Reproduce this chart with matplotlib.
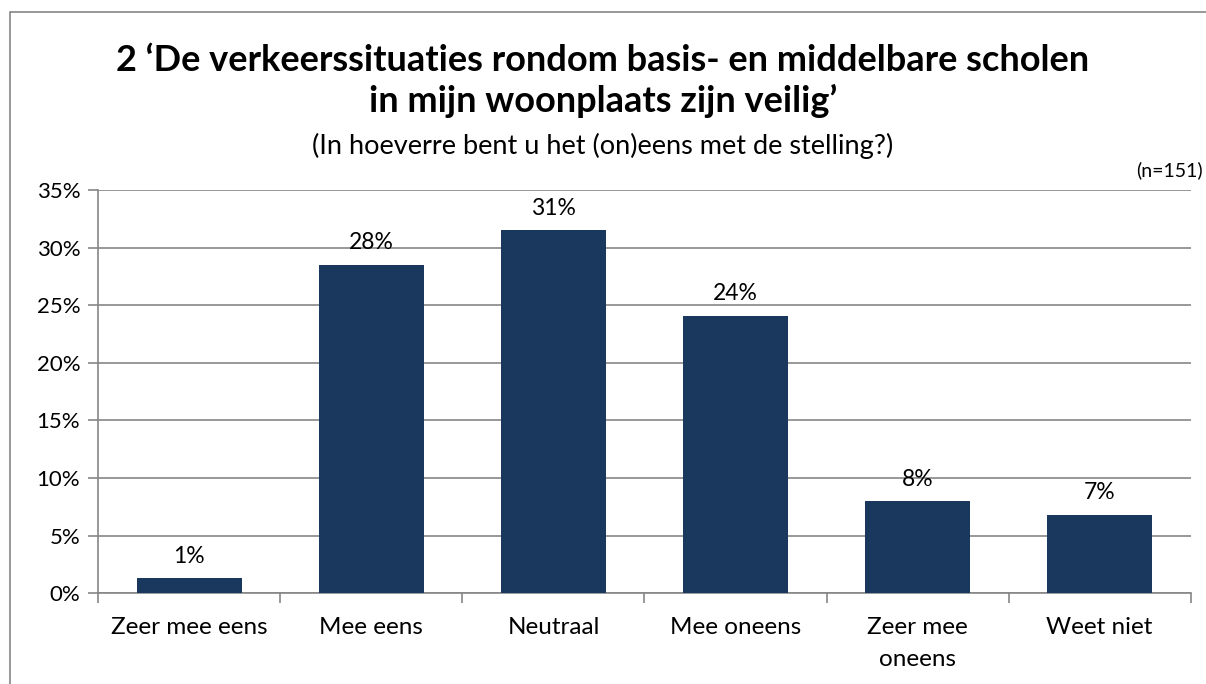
import matplotlib
matplotlib.use('Agg')
import matplotlib.pyplot as plt
from matplotlib.patches import Rectangle
from matplotlib.ticker import FixedLocator, PercentFormatter

categorieen = ['Zeer mee eens', 'Mee eens', 'Neutraal', 'Mee oneens', 'Zeer mee\noneens', 'Weet niet']
percentages = [1.3, 28.5, 31.5, 24.1, 8.0, 6.8]
labels = ['1%', '28%', '31%', '24%', '8%', '7%']

plt.rcParams['font.family'] = ['Lato', 'DejaVu Sans']

fig = plt.figure(figsize=(12.06, 6.84), dpi=100)
ax = fig.add_axes([0.0815, 0.1326, 0.9058, 0.5896])

# rand om de grafiek
fig.patches.append(Rectangle((10 / 1206, -0.1), 1.2, 1 - 12 / 684 + 0.1, transform=fig.transFigure,
                             fill=False, edgecolor='#868686', linewidth=1.2))

x = range(len(categorieen))
ax.bar(x, percentages, width=0.58, color='#1A375E', zorder=3)
for xi, p, l in zip(x, percentages, labels):
    ax.text(xi, p + 1.0, l, ha='center', va='bottom', fontsize=16.5)

ax.set_xlim(-0.5, len(categorieen) - 0.5)
ax.set_ylim(0, 35)
ax.set_yticks(range(0, 36, 5))
ax.yaxis.set_major_formatter(PercentFormatter(decimals=0))
ax.grid(axis='y', color='#868686', linewidth=1.2, zorder=0)

ax.set_xticks(list(x))
ax.set_xticklabels(categorieen, fontsize=17.5, linespacing=1.65)
ax.xaxis.set_minor_locator(FixedLocator([i - 0.5 for i in range(len(categorieen) + 1)]))
ax.tick_params(axis='x', which='major', length=0, pad=17)
ax.tick_params(axis='x', which='minor', length=7, color='#868686', width=1.2)
ax.tick_params(axis='y', length=7, color='#868686', width=1.2, labelsize=16, pad=6)

for s in ['top', 'right']:
    ax.spines[s].set_visible(False)
for s in ['left', 'bottom']:
    ax.spines[s].set_color('#868686')
    ax.spines[s].set_linewidth(1.2)

fig.text(0.5, 0.912, '2 \u2018De verkeerssituaties rondom basis- en middelbare scholen',
         ha='center', va='center', fontsize=26, fontweight='bold')
fig.text(0.5, 0.852, 'in mijn woonplaats zijn veilig\u2019',
         ha='center', va='center', fontsize=26, fontweight='bold')
fig.text(0.5, 0.787, '(In hoeverre bent u het (on)eens met de stelling?)',
         ha='center', va='center', fontsize=19.5)
fig.text(0.997, 0.751, '(n=151)', ha='right', va='center', fontsize=14)

fig.savefig('out.png', dpi=100)
